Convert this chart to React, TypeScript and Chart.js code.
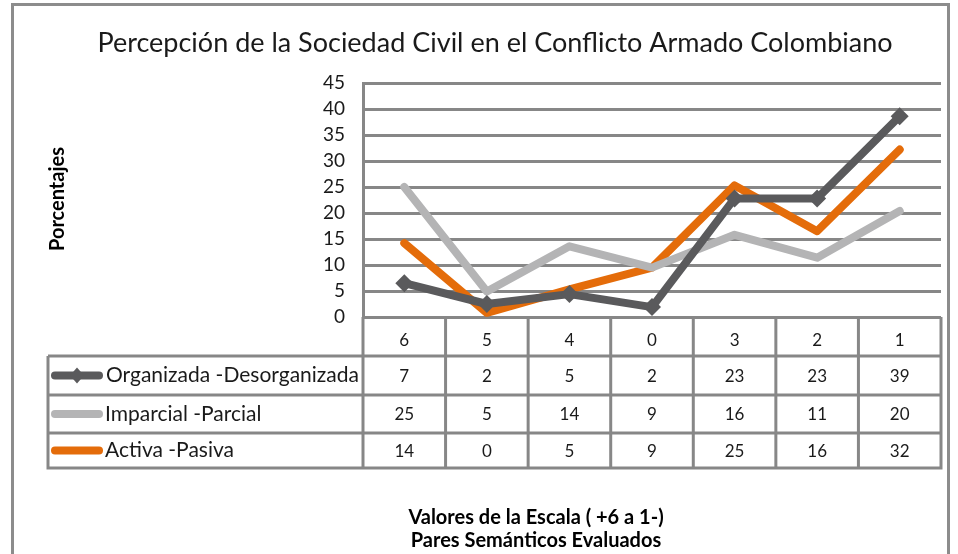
import React, { useEffect, useRef } from "react";
import { Chart, registerables } from "chart.js";

Chart.register(...registerables);

const title = "Percepción de la Sociedad Civil en el Conflicto Armado Colombiano";
const yTitle = "Porcentajes";
const xTitle1 = "Valores de la Escala ( +6 a 1-)";
const xTitle2 = "Pares Semánticos Evaluados";

const categories = ["6", "5", "4", "0", "3", "2", "1"];
const seriesNames = ["Organizada -Desorganizada", "Imparcial -Parcial", "Activa -Pasiva"];

// plotted values
const organizada = [6.5, 2.5, 4.4, 1.9, 22.8, 22.8, 38.6];
const imparcial = [25, 4.9, 13.6, 9.5, 15.8, 11.4, 20.4];
const activa = [14.2, 0.8, 5.3, 9.5, 25.3, 16.5, 32.2];

// values shown in the data table
const organizadaTable = ["7", "2", "5", "2", "23", "23", "39"];
const imparcialTable = ["25", "5", "14", "9", "16", "11", "20"];
const activaTable = ["14", "0", "5", "9", "25", "16", "32"];

const yTicks = { min: 0, max: 45, step: 5 };

const colors = ["#5a5a5c", "#b4b4b5", "#e46c0a"];
const FONT = "Lato, 'Open Sans', sans-serif";
const GRID = "#878787";

export default function App() {
  const ref = useRef<HTMLCanvasElement | null>(null);

  useEffect(() => {
    if (!ref.current) return;
    const tableRows = [organizadaTable, imparcialTable, activaTable];

    const decor = {
      id: "decor",
      afterDraw(chart: any) {
        const ctx = chart.ctx as CanvasRenderingContext2D;
        const area = chart.chartArea;
        const xs = chart.scales.x;
        const left = area.left;
        const right = area.right;
        const top = area.bottom; // header row top
        const rowY = [top, 356, 395, 433, 468];
        const labelLeft = 48;
        const n = categories.length;
        const colW = (right - left) / n;

        ctx.save();
        // outer frame
        ctx.strokeStyle = "#8c8c8c";
        ctx.lineWidth = 3;
        ctx.beginPath();
        ctx.moveTo(12.5, 560);
        ctx.lineTo(12.5, 4.5);
        ctx.lineTo(948.5, 4.5);
        ctx.lineTo(948.5, 560);
        ctx.stroke();

        // title
        ctx.fillStyle = "#1a1a1a";
        ctx.textAlign = "center";
        ctx.textBaseline = "middle";
        ctx.font = `27px ${FONT}`;
        ctx.fillText(title, 495, 43);

        // y axis title
        ctx.save();
        ctx.translate(58, 199);
        ctx.rotate(-Math.PI / 2);
        ctx.font = `bold 20px ${FONT}`;
        ctx.fillStyle = "#000";
        ctx.fillText(yTitle, 0, 0);
        ctx.restore();

        // x axis titles
        ctx.font = `bold 20px ${FONT}`;
        ctx.fillStyle = "#000";
        ctx.fillText(xTitle1, 536, 518);
        ctx.fillText(xTitle2, 536, 541);

        // table lines
        ctx.strokeStyle = GRID;
        ctx.lineWidth = 3;
        ctx.beginPath();
        for (let i = 1; i < rowY.length; i++) {
          ctx.moveTo(labelLeft, rowY[i]);
          ctx.lineTo(right, rowY[i]);
        }
        ctx.moveTo(labelLeft, rowY[1]);
        ctx.lineTo(labelLeft, rowY[4] + 1.5);
        for (let c = 0; c <= n; c++) {
          const x = left + c * colW;
          ctx.moveTo(x, top);
          ctx.lineTo(x, rowY[4] + 1.5);
        }
        ctx.stroke();

        // header labels
        ctx.fillStyle = "#1a1a1a";
        ctx.font = `17px ${FONT}`;
        ctx.textAlign = "center";
        for (let c = 0; c < n; c++) {
          const x = xs.getPixelForValue(c);
          ctx.fillText(categories[c], x, 341);
        }
        // rows
        for (let r = 0; r < 3; r++) {
          const cy = (rowY[r + 1] + rowY[r + 2]) / 2 + 1;
          ctx.font = `17px ${FONT}`;
          ctx.textAlign = "center";
          ctx.fillStyle = "#1a1a1a";
          for (let c = 0; c < n; c++) {
            const x = xs.getPixelForValue(c);
            ctx.fillText(tableRows[r][c], x, cy);
          }
          // legend key
          ctx.strokeStyle = colors[r];
          ctx.lineWidth = 8;
          ctx.lineCap = "round";
          ctx.beginPath();
          ctx.moveTo(55, cy - 1);
          ctx.lineTo(99, cy - 1);
          ctx.stroke();
          if (r === 0) {
            ctx.fillStyle = colors[0];
            ctx.beginPath();
            ctx.moveTo(77, cy - 9);
            ctx.lineTo(84, cy - 1);
            ctx.lineTo(77, cy + 7);
            ctx.lineTo(70, cy - 1);
            ctx.closePath();
            ctx.fill();
          }
          ctx.fillStyle = "#1a1a1a";
          ctx.textAlign = "left";
          ctx.font = `21px ${FONT}`;
          ctx.fillText(seriesNames[r], r === 0 ? 106 : 105, cy - 1);
        }
        ctx.restore();
      },
    };

    const chart = new Chart(ref.current, {
      type: "line",
      data: {
        labels: categories,
        datasets: [
          {
            label: seriesNames[0],
            data: organizada,
            borderColor: colors[0],
            backgroundColor: colors[0],
            borderWidth: 8,
            pointStyle: "rectRot",
            pointRadius: 9,
            pointBorderWidth: 0,
            pointBackgroundColor: colors[0],
            borderJoinStyle: "round",
            borderCapStyle: "round",
          },
          {
            label: seriesNames[1],
            data: imparcial,
            borderColor: colors[1],
            backgroundColor: colors[1],
            borderWidth: 8,
            pointRadius: 0,
            borderJoinStyle: "round",
            borderCapStyle: "round",
          },
          {
            label: seriesNames[2],
            data: activa,
            borderColor: colors[2],
            backgroundColor: colors[2],
            borderWidth: 8,
            pointRadius: 0,
            borderJoinStyle: "round",
            borderCapStyle: "round",
          },
        ],
      },
      options: {
        responsive: false,
        animation: false,
        devicePixelRatio: 1,
        layout: { padding: { left: 0, right: 17, top: 83, bottom: 237 } },
        plugins: {
          legend: { display: false },
          title: { display: false },
          tooltip: { enabled: false },
        },
        scales: {
          x: {
            type: "category",
            display: false,
            offset: true,
          },
          y: {
            min: yTicks.min,
            max: yTicks.max,
            ticks: {
              stepSize: yTicks.step,
              padding: 18,
              color: "#1a1a1a",
              font: { family: FONT, size: 19 },
            },
            grid: { color: GRID, lineWidth: 3, drawTicks: false },
            border: { display: true, color: GRID, width: 3 },
            afterFit(scale: any) {
              scale.width = 363;
            },
          },
        },
      },
      plugins: [decor],
    });
    return () => chart.destroy();
  }, []);

  return (
    <div style={{ position: "absolute", left: 0, top: 0, width: 958, height: 554, background: "#fff" }}>
      <canvas ref={ref} width={958} height={554} />
    </div>
  );
}
